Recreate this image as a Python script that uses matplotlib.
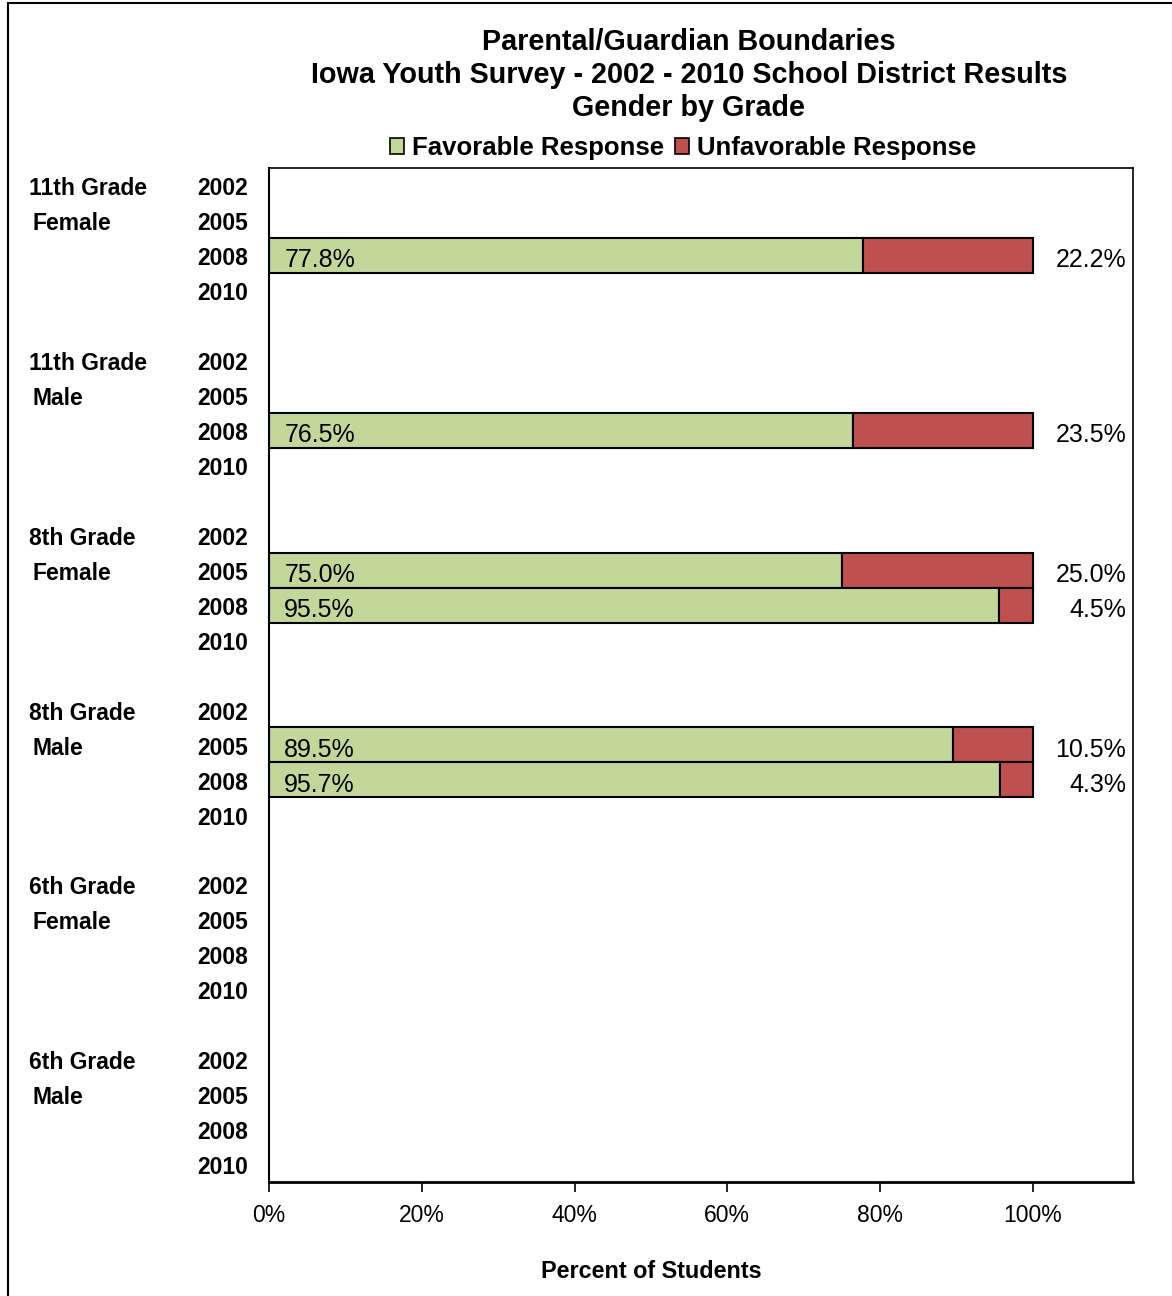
import matplotlib
matplotlib.use("Agg")
import matplotlib.pyplot as plt
from matplotlib.patches import Rectangle, Patch
from matplotlib.transforms import blended_transform_factory
import numpy as np

plt.rcParams['font.family'] = ['Liberation Sans', 'DejaVu Sans']

grades = ["11th Grade", "11th Grade", "8th Grade", "8th Grade", "6th Grade", "6th Grade"]
genders = ["Female", "Male", "Female", "Male", "Female", "Male"]
years = ["2002", "2005", "2008", "2010"]
nan = np.nan
# favorable / unfavorable percent per group (rows) and year (columns)
favorable = [
    [nan, nan, 77.8, nan],
    [nan, nan, 76.5, nan],
    [nan, 75.0, 95.5, nan],
    [nan, 89.5, 95.7, nan],
    [nan, nan, nan, nan],
    [nan, nan, nan, nan],
]
unfavorable = [
    [nan, nan, 22.2, nan],
    [nan, nan, 23.5, nan],
    [nan, 25.0, 4.5, nan],
    [nan, 10.5, 4.3, nan],
    [nan, nan, nan, nan],
    [nan, nan, nan, nan],
]

green = "#C4D79B"
red = "#C0504D"

W, H = 1172, 1296
fig = plt.figure(figsize=(W / 100, H / 100), dpi=100)
ax = fig.add_axes([269 / W, 1 - 1182 / H, (1133 - 269) / W, (1182 - 168) / H])

n_years = len(years)
slot = n_years + 1
n_slots = len(grades) * slot - 1

ytr = blended_transform_factory(fig.transFigure, ax.transData)

for g in range(len(grades)):
    for i in range(n_years):
        y = g * slot + i
        fav = favorable[g][i]
        unf = unfavorable[g][i]
        if not np.isnan(fav):
            ax.barh(y, fav, height=1.0, color=green, edgecolor="black", linewidth=1.5)
            ax.barh(y, unf, left=fav, height=1.0, color=red, edgecolor="black", linewidth=1.5)
            ax.text(2.0, y + 0.14, f"{fav:.1f}%", ha="left", va="center", fontsize=18)
            ax.text(112.2, y + 0.14, f"{unf:.1f}%", ha="right", va="center", fontsize=18)
        fig.text(248 / W, y + 0.09, years[i], transform=ytr, ha="right", va="center",
                 fontsize=16.5, fontweight="bold")
    fig.text(29 / W, g * slot + 0.09, grades[g], transform=ytr, ha="left", va="center",
             fontsize=16.5, fontweight="bold")
    fig.text(33 / W, g * slot + 1.09, genders[g], transform=ytr, ha="left", va="center",
             fontsize=16.5, fontweight="bold")

ax.set_ylim(n_slots - 0.5, -0.5)
ax.set_xlim(0, 113.1)
ax.set_yticks([])
ax.set_xticks([0, 20, 40, 60, 80, 100])
ax.set_xticklabels([f"{t}%" for t in [0, 20, 40, 60, 80, 100]], fontsize=16.5)
ax.tick_params(axis="x", direction="out", length=7, width=1.2, pad=9)
for side in ["top", "right"]:
    ax.spines[side].set_linewidth(1.2)
ax.spines["left"].set_linewidth(1.5)
ax.spines["bottom"].set_linewidth(2)

xtr = blended_transform_factory(ax.transData, fig.transFigure)
fig.text(50, 1 - 1272 / H, "Percent of Students", transform=xtr, ha="center", va="center",
         fontsize=16.8, fontweight="bold")

title_lines = ["Parental/Guardian Boundaries",
               "Iowa Youth Survey - 2002 - 2010 School District Results",
               "Gender by Grade"]
for k, line in enumerate(title_lines):
    fig.text(689 / W, 1 - (42 + 33 * k) / H, line, ha="center", va="center",
             fontsize=20.7, fontweight="bold")

handles = [Patch(facecolor=green, edgecolor="black", linewidth=1.2),
           Patch(facecolor=red, edgecolor="black", linewidth=1.2)]
fig.legend(handles, ["Favorable Response", "Unfavorable Response"],
           loc="center", bbox_to_anchor=(683 / W, 1 - 148 / H), ncol=2, frameon=False,
           prop={"size": 18.5, "weight": "bold"}, handlelength=0.55, handleheight=0.55,
           handletextpad=0.3, columnspacing=0.45, borderpad=0)

fig.patches.append(Rectangle((8 / W, -0.05), 1.1, 1 - 3 / H + 0.05, transform=fig.transFigure,
                             fill=False, edgecolor="black", linewidth=1.5))

fig.savefig("out.png", dpi=100)
